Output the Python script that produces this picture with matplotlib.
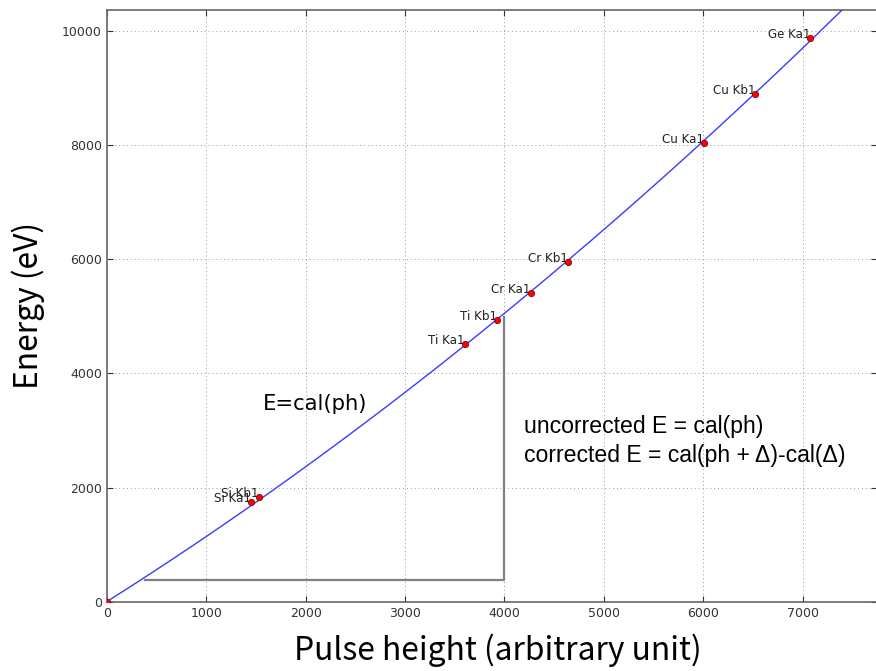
import numpy as np
import matplotlib
matplotlib.use("Agg")
import matplotlib.pyplot as plt

# calibration lines: name, pulse height, energy
lines = ["Si Ka1", "Si Kb1", "Ti Ka1", "Ti Kb1", "Cr Ka1", "Cr Kb1",
         "Cu Ka1", "Cu Kb1", "Ge Ka1"]
pulse_height = [1451, 1532, 3603, 3922, 4267, 4640, 6010, 6523, 7076]
energy = [1740.0, 1835.9, 4510.8, 4931.8, 5414.7, 5946.7, 8047.8, 8905.3, 9886.4]

# offset bracket (ph = 4000, shifted baseline)
bracket_x = [385, 4000, 4000]
bracket_y = [380, 380, 4990]

ph = np.array(pulse_height, float)
en = np.array(energy, float)

# cal(ph) = a*ph + b*ph^2, forced through the origin
A = np.column_stack([ph, ph ** 2])
coef, *_ = np.linalg.lstsq(A, en, rcond=None)
xs = np.linspace(0, 7750, 400)
ys = coef[0] * xs + coef[1] * xs ** 2

W, H = 876, 671
fig = plt.figure(figsize=(W / 100, H / 100), dpi=100)
ax = fig.add_axes([106.7 / W, (H - 601.7) / H, 1.0015 - 106.7 / W, 591.7 / H])

ax.plot(xs, ys, color="#3b3bff", lw=1.0, zorder=3)
ax.plot(bracket_x, bracket_y, color="#808080", lw=1.6, zorder=2)
ax.plot([0] + pulse_height, [0] + energy, "o", color="red", ms=4.6,
        mec="#700000", mew=0.5, zorder=4)
for name, x, y in zip(lines, pulse_height, energy):
    ax.text(x, y, name, ha="right", va="baseline", fontsize=8.6, color="#222222")

ax.set_xlim(0, 7750)
ax.set_ylim(0, 10370)
ax.set_xticks(range(0, 8000, 1000))
ax.set_yticks(range(0, 10001, 2000))
ax.grid(True, color="#999999", ls=(0, (1, 3)), lw=0.7)
ax.tick_params(direction="in", top=True, right=True, labelsize=9,
               colors="#333333", length=4)
for s in ax.spines.values():
    s.set_color("#666666")
    s.set_linewidth(1.2)

jp = ["Noto Sans CJK JP", "DejaVu Sans"]
ax.text(1570, 3464, "E=cal(ph)", fontsize=15.2, va="center")
ax.text(4197, 2815, "uncorrected E = cal(ph)\ncorrected E = cal(ph + Δ)-cal(Δ)",
        fontsize=16.6, family=["Liberation Sans", "DejaVu Sans"], va="center",
        linespacing=1.3)

ax.set_xlabel("Pulse height (arbitrary unit)", fontsize=22.9, family=jp, va="center")
ax.xaxis.set_label_coords(0.508, -0.082)
ax.set_ylabel("Energy (eV)", fontsize=22.9, family=jp, va="center")
ax.yaxis.set_label_coords(-0.102, 0.5)

fig.savefig("out.png", dpi=100, facecolor="white")
